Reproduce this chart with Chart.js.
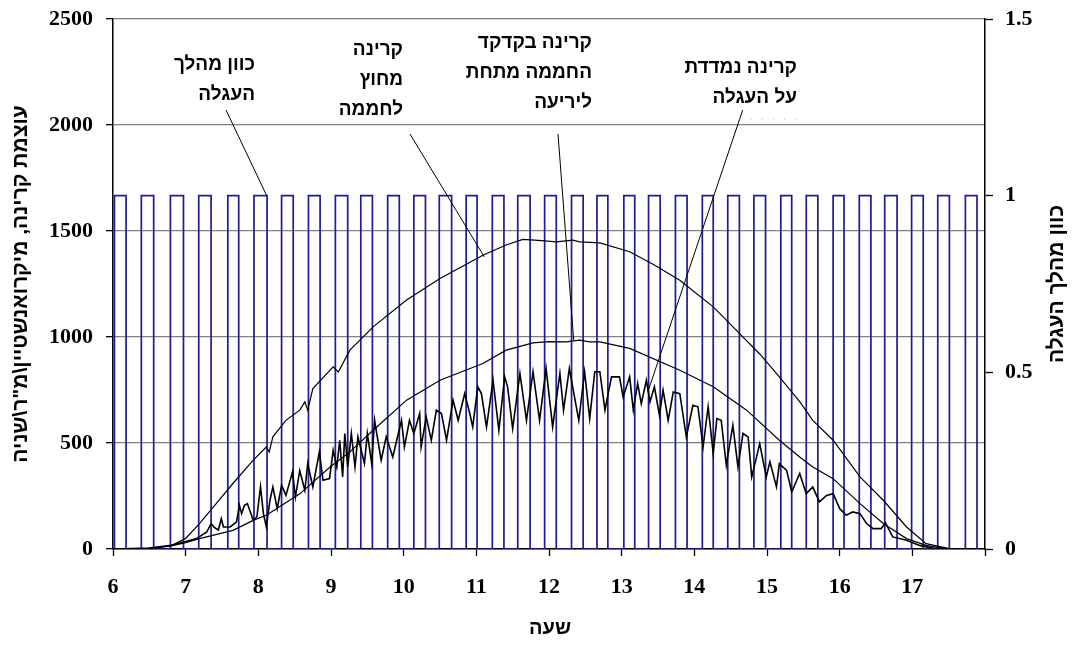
<!DOCTYPE html>
<html lang="he">
<head>
<meta charset="utf-8">
<script src="https://cdn.jsdelivr.net/npm/chart.js@4/dist/chart.umd.min.js"></script>
<style>
  html, body { margin: 0; padding: 0; background: #ffffff; }
  #wrap { width: 1080px; height: 653px; position: relative; }
  canvas { display: block; }
</style>
</head>
<body>
<div id="wrap"><canvas id="c" width="1080" height="653"></canvas></div>
<script>
// ---------- DATA ----------
// x tick labels (hours); the last tick (18) has no label
const xTickLabels = ['6','7','8','9','10','11','12','13','14','15','16','17',''];
const yLeftTickLabels = ['0','500','1000','1500','2000','2500'];
const yRightTickLabels = ['0','0.5','1','1.5'];

// Radiation outside the greenhouse
const outsideT = [6.0,6.5,6.8,7.0,7.19,7.42,7.65,7.93,8.11,8.15,8.20,8.38,8.57,8.64,8.68,8.75,9.03,9.10,9.26,9.58,10.04,10.5,11.09,11.41,11.64,11.9,12.1,12.33,12.42,12.7,13.11,13.45,13.8,14.26,14.62,14.9,15.17,15.45,15.63,15.91,16.28,16.6,16.92,17.19,17.51,18.0];
const outsideV = [0,3,15,50,120,214,309,419,481,458,529,607,655,694,655,757,859,835,938,1048,1174,1276,1386,1434,1460,1455,1449,1457,1449,1444,1402,1340,1268,1142,1017,920,812,695,607,513,340,230,104,25,2,0];

// Radiation at the greenhouse ridge, under the screen
const insideT = [6.0,6.5,6.8,7.0,7.19,7.65,7.93,8.11,8.57,9.0,9.26,9.58,10.04,10.5,11.09,11.41,11.78,12.0,12.24,12.42,12.56,12.7,13.11,13.8,14.26,14.72,15.17,15.45,15.63,15.91,16.28,16.6,16.92,17.19,17.5,18.0];
const insideV = [0,3,15,30,49,88,135,159,260,390,458,560,702,796,875,938,972,978,977,985,977,977,946,843,765,655,513,434,387,332,214,120,49,17,0,0];

// Radiation measured on the carriage
const carriageT = [6.0,6.5,6.8,7.0,7.15,7.29,7.35,7.40,7.45,7.49,7.52,7.61,7.67,7.70,7.74,7.77,7.81,7.85,7.93,7.98,8.03,8.07,8.11,8.16,8.20,8.26,8.32,8.38,8.47,8.51,8.57,8.64,8.68,8.75,8.84,8.89,8.98,9.03,9.08,9.12,9.16,9.19,9.23,9.28,9.33,9.37,9.46,9.50,9.56,9.60,9.69,9.76,9.85,9.97,10.01,10.08,10.14,10.22,10.24,10.31,10.38,10.45,10.52,10.59,10.68,10.75,10.84,10.91,10.95,11.02,11.07,11.14,11.23,11.31,11.39,11.43,11.50,11.60,11.69,11.78,11.87,11.96,12.05,12.15,12.20,12.28,12.41,12.49,12.56,12.63,12.70,12.77,12.86,12.97,13.02,13.11,13.16,13.22,13.27,13.34,13.39,13.45,13.52,13.57,13.64,13.71,13.80,13.89,13.98,14.05,14.12,14.19,14.26,14.31,14.37,14.44,14.53,14.60,14.67,14.74,14.79,14.90,14.99,15.04,15.13,15.17,15.27,15.34,15.45,15.54,15.63,15.72,15.82,15.91,16.00,16.09,16.18,16.28,16.37,16.46,16.57,16.63,16.73,16.92,17.10,17.28,17.5,18.0];
const carriageV = [0,4,18,35,49,80,120,100,90,143,104,104,120,128,206,167,206,214,135,151,293,167,104,230,293,190,301,253,363,245,370,277,403,293,458,324,332,466,387,513,340,545,387,545,387,529,403,545,403,607,419,529,434,607,481,607,545,639,481,623,513,655,639,513,702,607,733,639,576,765,733,576,796,560,812,765,568,828,607,836,607,851,576,828,655,851,607,836,615,836,836,655,812,812,717,812,655,781,686,796,694,765,631,749,607,741,733,529,678,671,481,671,450,615,607,395,584,387,545,529,340,497,340,411,293,403,371,269,356,261,293,222,253,261,191,159,175,167,120,96,96,124,57,41,17,4,0,0];

// Carriage travel direction (0/1): times (hours) when it switches to 1 and back to 0
const dirUpT   = [6.02,6.39,6.79,7.18,7.58,7.94,8.32,8.69,9.06,9.41,9.78,10.14,10.49,10.86,11.22,11.57,11.94,12.31,12.66,13.03,13.37,13.74,14.11,14.46,14.82,15.19,15.54,15.91,16.27,16.62,16.99,17.35,17.73];
const dirDownT = [6.18,6.56,6.97,7.35,7.73,8.12,8.48,8.85,9.23,9.57,9.94,10.30,10.66,11.01,11.38,11.74,12.10,12.47,12.81,13.18,13.53,13.90,14.26,14.62,14.98,15.34,15.70,16.06,16.43,16.79,17.15,17.51,17.89];

// Text
const xTitle = 'שעה';
const yLeftTitle = 'עוצמת קרינה, מיקרואנשטיין\\מ"ר\\שניה';
const yRightTitle = 'כוון מהלך העגלה';

// ---------- build tables for the library ----------
const toPts = (T, V) => T.map((t, i) => ({ x: t, y: V[i] }));
const dirPts = [{ x: 6, y: 0 }];
dirUpT.forEach((t, i) => {
  dirPts.push({ x: t, y: 0 }, { x: t, y: 1 }, { x: dirDownT[i], y: 1 }, { x: dirDownT[i], y: 0 });
});
dirPts.push({ x: 18, y: 0 });

// ---------- annotations (layout) ----------
const labels = [
  { lines: ['כוון מהלך', 'העגלה'], right: 255, top: 65, from: [226, 110], to: { x: 8.115, y: 1, axis: 'y2' } },
  { lines: ['קרינה', 'מחוץ', 'לחממה'], right: 403, top: 50, from: [410, 134], to: { x: 11.11, y: 1378, axis: 'y' } },
  { lines: ['קרינה בקדקד', 'החממה מתחת', 'ליריעה'], right: 592, top: 43, from: [558, 134], to: { x: 12.34, y: 985, axis: 'y' } },
  { lines: ['קרינה נמדדת', 'על העגלה'], right: 797, top: 68, from: [742.7, 110], to: { x: 13.36, y: 741, axis: 'y' } }
];
const lineGap = 30;

const annotationPlugin = {
  id: 'annot',
  afterDraw(chart) {
    const ctx = chart.ctx;
    const xs = chart.scales.x;
    ctx.save();
    // axis titles
    ctx.fillStyle = '#000';
    ctx.font = 'bold 20px "Liberation Sans", Arial, sans-serif';
    ctx.textAlign = 'center';
    ctx.textBaseline = 'middle';
    ctx.fillText(xTitle, 550, 628);
    ctx.font = 'bold 21px "Liberation Sans", Arial, sans-serif';
    ctx.save();
    ctx.translate(21, 284);
    ctx.rotate(-Math.PI / 2);
    ctx.fillText(yLeftTitle, 0, 0);
    ctx.restore();
    ctx.save();
    ctx.translate(1057, 284);
    ctx.rotate(-Math.PI / 2);
    ctx.fillText(yRightTitle, 0, 0);
    ctx.restore();

    // callout labels
    ctx.font = 'bold 19px "Liberation Sans", Arial, sans-serif';
    ctx.textAlign = 'right';
    ctx.textBaseline = 'middle';
    labels.forEach(l => {
      l.lines.forEach((s, i) => ctx.fillText(s, l.right, l.top + i * lineGap));
      const ys = chart.scales[l.to.axis];
      ctx.beginPath();
      ctx.strokeStyle = '#000';
      ctx.lineWidth = 1;
      ctx.moveTo(l.from[0], l.from[1]);
      ctx.lineTo(xs.getPixelForValue(l.to.x), ys.getPixelForValue(l.to.y));
      ctx.stroke();
    });
    // faint dotted trace under the last label
    ctx.fillStyle = '#c8c8c8';
    ctx.font = '10px "Liberation Sans", sans-serif';
    ctx.fillText('.   .   .   .   .   .', 797, 117);
    ctx.restore();
  }
};

const tickFont = { family: '"Liberation Serif", "Times New Roman", serif', weight: 'bold', size: 22 };

new Chart(document.getElementById('c'), {
  type: 'line',
  data: {
    datasets: [
      { label: 'outside', data: toPts(outsideT, outsideV), yAxisID: 'y', borderColor: '#000', borderWidth: 1.2, pointRadius: 0, tension: 0, order: 1 },
      { label: 'inside', data: toPts(insideT, insideV), yAxisID: 'y', borderColor: '#000', borderWidth: 1.2, pointRadius: 0, tension: 0, order: 2 },
      { label: 'carriage', data: toPts(carriageT, carriageV), yAxisID: 'y', borderColor: '#000', borderWidth: 1.6, pointRadius: 0, tension: 0, order: 3 },
      { label: 'direction', data: dirPts, yAxisID: 'y2', borderColor: '#1c1c96', borderWidth: 1.7, pointRadius: 0, tension: 0, order: 4 }
    ]
  },
  options: {
    responsive: false,
    animation: false,
    devicePixelRatio: 1,
    parsing: true,
    layout: { padding: { top: 19, left: 0, right: 0, bottom: 0 } },
    plugins: { legend: { display: false }, tooltip: { enabled: false } },
    scales: {
      x: {
        type: 'linear', position: 'bottom', min: 6, max: 18,
        ticks: {
          stepSize: 1, autoSkip: false, maxRotation: 0, color: '#000', font: tickFont, padding: 18,
          callback: (v) => xTickLabels[Math.round(v) - 6]
        },
        grid: { drawOnChartArea: false, tickLength: 7, tickColor: '#000', tickWidth: 1.3 },
        border: { color: '#000', width: 1.5 },
        afterFit: (s) => { s.height = 104; s.paddingLeft = 0; s.paddingRight = 0; }
      },
      y: {
        position: 'left', min: 0, max: 2500,
        ticks: {
          stepSize: 500, color: '#000', font: tickFont, padding: 13,
          callback: (v) => yLeftTickLabels[Math.round(v / 500)]
        },
        grid: { color: '#808080', lineWidth: 1.3, tickLength: 7, tickColor: '#000', tickWidth: 1.3 },
        border: { color: '#000', width: 1.5 },
        afterFit: (s) => { s.width = 113; s.paddingTop = 0; s.paddingBottom = 0; }
      },
      y2: {
        position: 'right', min: 0, max: 1.5,
        ticks: {
          stepSize: 0.5, color: '#000', font: tickFont, padding: 12,
          callback: (v) => yRightTickLabels[Math.round(v / 0.5)]
        },
        grid: { drawOnChartArea: false, tickLength: 8, tickColor: '#000', tickWidth: 1.3 },
        border: { color: '#000', width: 1.5 },
        afterFit: (s) => { s.width = 95; s.paddingTop = 0; s.paddingBottom = 0; }
      }
    }
  },
  plugins: [annotationPlugin]
});
</script>
</body>
</html>
